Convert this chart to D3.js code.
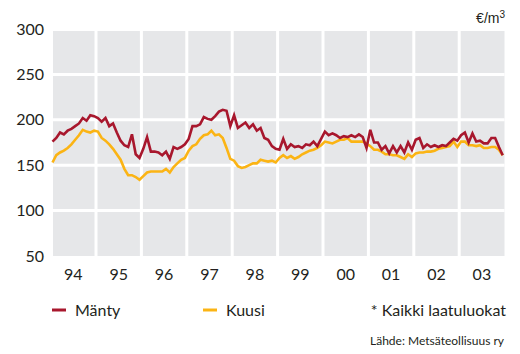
<!DOCTYPE html>
<html>
<head>
<meta charset="utf-8">
<script src="https://cdn.jsdelivr.net/npm/d3@7"></script>
<style>
  html, body { margin: 0; padding: 0; background: #fff; }
  svg { display: block; }
  text { font-family: Lato, "Open Sans", sans-serif; fill: #231f20; }
</style>
</head>
<body>
<svg id="chart" width="520" height="354"></svg>
<script>
// Monthly roundwood stumpage prices, Jan 1994 – Dec 2003 (€/m³)
const years = ["94", "95", "96", "97", "98", "99", "00", "01", "02", "03"];
const yTicks = [50, 100, 150, 200, 250, 300];

const manty = [
  176, 180, 186, 184, 188, 190, 193, 196, 202, 199, 205, 204,
  202, 198, 202, 193, 196, 186, 177, 172, 170, 184, 162, 158,
  168, 181, 165, 165, 164, 161, 165, 157, 170, 168, 170, 173,
  179, 193, 193, 195, 203, 201, 200, 204, 209, 211, 210, 193,
  205, 191, 194, 197, 191, 195, 188, 191, 180, 178, 171, 168,
  167, 179, 168, 173, 170, 171, 169, 173, 172, 176, 171, 179,
  187, 183, 185, 183, 180, 182, 181, 183, 181, 184, 181, 169,
  189, 175, 175, 167, 171, 163, 171, 164, 171, 164, 175, 167,
  178, 180, 169, 173, 170, 172, 170, 172, 171, 175, 179, 177,
  183, 186, 175, 185, 176, 177, 174, 174, 180, 180, 170, 161
];

const kuusi = [
  153, 161, 164, 166, 169, 173, 178, 183, 189, 187, 186, 188,
  187, 180, 177, 173, 168, 162, 156, 146, 139, 139, 137, 134,
  138, 142, 143, 143, 143, 143, 146, 142, 148, 152, 156, 158,
  166, 171, 173, 179, 183, 184, 188, 183, 184, 180, 169, 157,
  155, 149, 147, 148, 150, 152, 152, 156, 155, 154, 155, 153,
  158, 161, 158, 160, 157, 159, 162, 164, 166, 167, 169, 172,
  176, 175, 174, 176, 178, 178, 180, 176, 176, 176, 176, 174,
  171, 167, 167, 165, 162, 162, 161, 161, 159, 157, 162, 159,
  163, 164, 164, 165, 165, 166, 168, 169, 170, 171, 176, 170,
  176, 176, 172, 172, 171, 172, 169, 169, 170, 170, 167, 161
];

const series = [
  { name: "Mänty", values: manty, color: "#a8172d" },
  { name: "Kuusi", values: kuusi, color: "#fbb414" }
];

const svg = d3.select("#chart");

// Month scale: each month sits at its mid-point inside the year band
const x = d3.scaleLinear().domain([0, years.length * 12]).range([50.6, 504.6]);
const y = d3.scaleLinear().domain([50, 300]).range([256, 29]);

const plotLeft = 53, plotRight = 504.5, plotTop = 31, plotBottom = 256;

// Grey plot panel
svg.append("rect")
  .attr("x", plotLeft).attr("y", plotTop)
  .attr("width", plotRight - plotLeft).attr("height", plotBottom - plotTop)
  .attr("fill", "#e6e7e9");

// White grid separating the panel into cells
const grid = svg.append("g").attr("stroke", "#fff").attr("stroke-width", 3);
grid.selectAll("line.h")
  .data(yTicks.filter(v => v > 50 && v < 300))
  .join("line")
  .attr("x1", plotLeft).attr("x2", plotRight)
  .attr("y1", d => y(d)).attr("y2", d => y(d));
grid.selectAll("line.v")
  .data(d3.range(1, years.length))
  .join("line")
  .attr("x1", d => x(d * 12)).attr("x2", d => x(d * 12))
  .attr("y1", plotTop).attr("y2", plotBottom);

// Y axis labels
const yAxis = svg.append("g")
  .attr("transform", "translate(44,0)")
  .call(d3.axisLeft(y).tickValues(yTicks).tickSize(0).tickPadding(0));
yAxis.select(".domain").remove();
yAxis.selectAll("text")
  .style("font-family", "Lato, 'Open Sans', sans-serif")
  .style("font-size", "16px")
  .attr("fill", "#231f20");

// X axis: year labels centred in each year band
const xBand = d3.scaleBand().domain(years).range([x(0), x(years.length * 12)]);
const xAxis = svg.append("g")
  .attr("transform", "translate(0,269)")
  .call(d3.axisBottom(xBand).tickSize(0).tickPadding(0));
xAxis.select(".domain").remove();
xAxis.selectAll("text")
  .style("font-family", "Lato, 'Open Sans', sans-serif")
  .style("font-size", "16px")
  .attr("fill", "#231f20");

// Price lines
const line = d3.line()
  .x((d, i) => x(i + 0.5))
  .y(d => y(d));

svg.selectAll("path.series")
  .data(series.slice().reverse())
  .join("path")
  .attr("class", "series")
  .attr("fill", "none")
  .attr("stroke", d => d.color)
  .attr("stroke-width", 2.6)
  .attr("stroke-linejoin", "miter")
  .attr("d", d => line(d.values));

// Legend
const legendPos = [52, 203];
const legend = svg.selectAll("g.legend")
  .data(series)
  .join("g")
  .attr("class", "legend")
  .attr("transform", (d, i) => `translate(${legendPos[i]},310)`);
legend.append("line")
  .attr("x1", 0).attr("x2", 14)
  .attr("stroke", d => d.color).attr("stroke-width", 3);
legend.append("text")
  .attr("x", 23).attr("y", 6)
  .style("font-size", "16px")
  .text(d => d.name);

svg.append("text")
  .attr("x", 506).attr("y", 316)
  .attr("text-anchor", "end")
  .style("font-size", "16px")
  .text("* Kaikki laatuluokat");

svg.append("text")
  .attr("x", 504).attr("y", 345)
  .attr("text-anchor", "end")
  .style("font-size", "12px")
  .text("Lähde: Metsäteollisuus ry");

// Unit label
const unit = svg.append("text")
  .attr("x", 505).attr("y", 23)
  .attr("text-anchor", "end")
  .style("font-size", "14px")
  .style("font-family", "'Liberation Sans', Arial, sans-serif");
unit.append("tspan").text("€/m");
unit.append("tspan").attr("dy", -5).style("font-size", "10px").text("3");
</script>
</body>
</html>
